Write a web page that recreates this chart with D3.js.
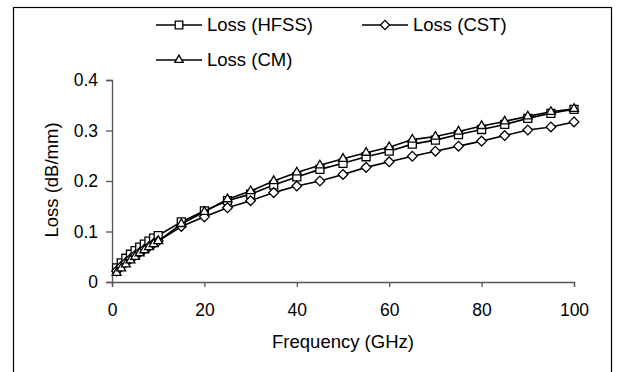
<!DOCTYPE html>
<html>
<head>
<meta charset="utf-8">
<script src="https://cdn.jsdelivr.net/npm/d3@7"></script>
<style>
  body { margin: 0; background: #fff; }
  text { font-family: "Liberation Sans", Arial, sans-serif; fill: #000; }
</style>
</head>
<body>
<div id="chart"></div>
<script>
const width = 617;
const height = 372;

// frequency points (GHz)
const freqs = [1, 2, 3, 4, 5, 6, 7, 8, 9, 10, 15, 20, 25, 30, 35, 40, 45, 50,
               55, 60, 65, 70, 75, 80, 85, 90, 95, 100];

// loss values (dB/mm)
const lossHFSS = [0.028, 0.038, 0.047, 0.055, 0.062, 0.069, 0.075, 0.081, 0.087, 0.092,
                  0.119, 0.141, 0.161, 0.174, 0.192, 0.208, 0.223, 0.235, 0.248, 0.259,
                  0.273, 0.281, 0.292, 0.302, 0.312, 0.324, 0.334, 0.342];
const lossCST  = [0.022, 0.031, 0.039, 0.046, 0.053, 0.059, 0.065, 0.070, 0.076, 0.081,
                  0.110, 0.129, 0.147, 0.161, 0.177, 0.190, 0.200, 0.213, 0.227, 0.238,
                  0.249, 0.259, 0.269, 0.279, 0.290, 0.301, 0.307, 0.317];
const lossCM   = [0.018, 0.027, 0.035, 0.043, 0.050, 0.057, 0.063, 0.069, 0.075, 0.081,
                  0.115, 0.139, 0.164, 0.180, 0.200, 0.217, 0.231, 0.244, 0.256, 0.267,
                  0.282, 0.288, 0.298, 0.309, 0.318, 0.328, 0.337, 0.343];

const xTicks = [0, 20, 40, 60, 80, 100];
const yTicks = [0, 0.1, 0.2, 0.3, 0.4];

const series = [
  { name: "Loss (HFSS)", values: lossHFSS, symbol: d3.symbolSquare, size: 64 },
  { name: "Loss (CST)",  values: lossCST,  symbol: d3.symbolDiamond2, size: 60 },
  { name: "Loss (CM)",   values: lossCM,   symbol: d3.symbolTriangle2, size: 56 }
];

const svg = d3.select("#chart").append("svg")
  .attr("width", width)
  .attr("height", height);

// outer frame
svg.append("rect")
  .attr("x", 13.5).attr("y", 7.5)
  .attr("width", 598).attr("height", 380)
  .attr("fill", "none")
  .attr("stroke", "#000")
  .attr("stroke-width", 1.2);

const x = d3.scaleLinear().domain([0, 100]).range([112, 574]);
const y = d3.scaleLinear().domain([0, 0.4]).range([282, 80]);

// axes
const xAxis = svg.append("g")
  .attr("transform", `translate(0,${y(0)})`)
  .call(d3.axisBottom(x).tickValues(xTicks).tickFormat(d3.format("d")).tickSize(5).tickPadding(17));
const yAxis = svg.append("g")
  .attr("transform", `translate(${x(0)},0)`)
  .call(d3.axisLeft(y).tickValues(yTicks).tickFormat(d => d === 0 ? "0" : d3.format(".1f")(d)).tickSize(6).tickPadding(8));

[xAxis, yAxis].forEach(g => {
  g.select(".domain").attr("stroke", "#555").attr("stroke-width", 1.3);
  g.selectAll(".tick line").attr("stroke", "#555").attr("stroke-width", 1.3);
  g.selectAll(".tick text")
    .attr("font-family", "Liberation Sans, Arial, sans-serif")
    .attr("font-size", 17.5)
    .attr("fill", "#000");
});

// axis titles
svg.append("text")
  .attr("x", 343).attr("y", 348)
  .attr("text-anchor", "middle")
  .attr("font-size", 18.5)
  .text("Frequency (GHz)");

svg.append("text")
  .attr("transform", "translate(58,180) rotate(-90)")
  .attr("text-anchor", "middle")
  .attr("font-size", 18.5)
  .text("Loss (dB/mm)");

// lines and markers
const line = d3.line()
  .x(d => x(d[0]))
  .y(d => y(d[1]));

series.forEach(s => {
  const pts = freqs.map((f, i) => [f, s.values[i]]);
  svg.append("path")
    .datum(pts)
    .attr("d", line)
    .attr("fill", "none")
    .attr("stroke", "#000")
    .attr("stroke-width", 1.6);
  svg.append("g").selectAll("path")
    .data(pts)
    .enter().append("path")
    .attr("transform", d => `translate(${x(d[0])},${y(d[1])})`)
    .attr("d", d3.symbol().type(s.symbol).size(s.size))
    .attr("fill", "#fff")
    .attr("stroke", "#000")
    .attr("stroke-width", 1.3);
});

// legend
const legendPos = [
  { x: 156, y: 25 },
  { x: 362, y: 25 },
  { x: 156, y: 60 }
];
series.forEach((s, i) => {
  const p = legendPos[i];
  const g = svg.append("g").attr("transform", `translate(${p.x},${p.y})`);
  g.append("line")
    .attr("x1", 0).attr("x2", 46)
    .attr("y1", 0).attr("y2", 0)
    .attr("stroke", "#000").attr("stroke-width", 1.6);
  g.append("path")
    .attr("transform", "translate(23,0)")
    .attr("d", d3.symbol().type(s.symbol).size(s.size * 0.9))
    .attr("fill", "#fff")
    .attr("stroke", "#000")
    .attr("stroke-width", 1.3);
  g.append("text")
    .attr("x", 51).attr("y", 0)
    .attr("dy", "0.35em")
    .attr("font-size", 18.5)
    .text(s.name);
});
</script>
</body>
</html>
